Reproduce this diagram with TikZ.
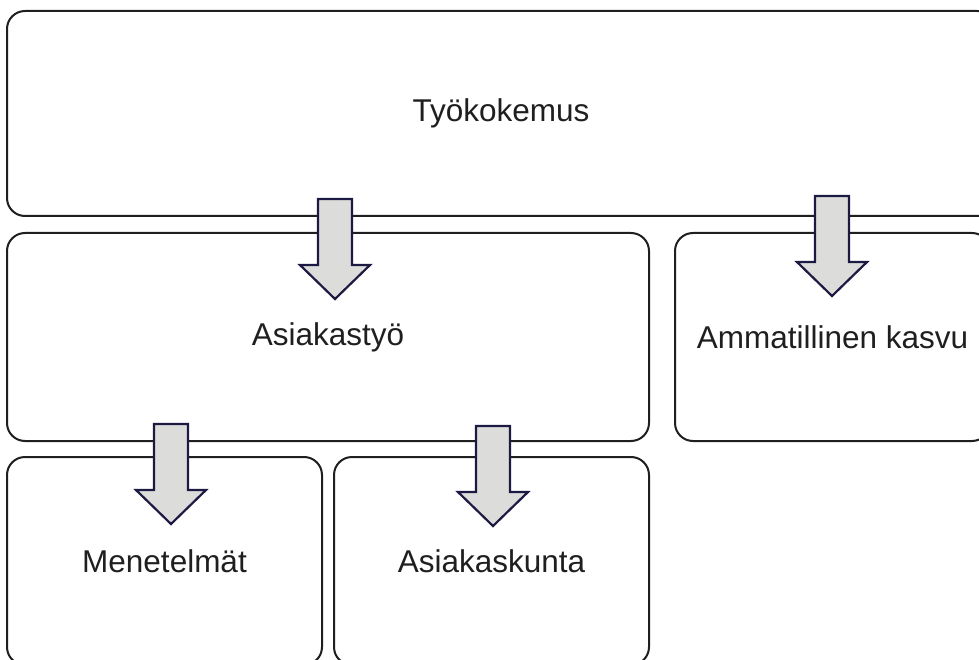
\documentclass[tikz,border=0pt]{standalone}
\usepackage{fontspec}
\setmainfont{Liberation Sans}
\definecolor{boxline}{HTML}{1F1F1F}
\definecolor{arrowfill}{HTML}{DCDDDA}
\definecolor{arrowline}{HTML}{1C1942}
\begin{document}
\begin{tikzpicture}[x=1pt,y=-1pt,
  box/.style={draw=boxline, line width=2pt, rounded corners=18pt, fill=white,
    text=boxline, font=\fontsize{31.5}{38}\selectfont, inner sep=0pt},
  arrowstyle/.style={draw=arrowline, fill=arrowfill, line width=2.2pt, line join=miter},
  blockarrow/.pic={\draw[arrowstyle] (-17,0) -- (17,0) -- (17,66) -- (35,66) -- (0,100)
      -- (-35,66) -- (-17,66) -- cycle;}]
\useasboundingbox (0,0) rectangle (979,660);
\clip (0,0) rectangle (979,660);

% boxes
\node[box, minimum width=988pt, minimum height=205pt] (work) at (501,113.5) {Työkokemus};
\node[box, minimum width=642pt, minimum height=208pt] (client) at (328,337) {Asiakastyö};
\node[box, minimum width=315pt, minimum height=208pt] (growth) at (832.5,337) {Ammatillinen kasvu};
\node[box, minimum width=315pt, minimum height=208pt] (methods) at (164.5,561) {Menetelmät};
\node[box, minimum width=315pt, minimum height=208pt] (clients) at (491.5,561) {Asiakaskunta};

% block arrows between the levels
\pic at (335,199) {blockarrow};
\pic at (832,196) {blockarrow};
\pic at (171,424) {blockarrow};
\pic at (493,426) {blockarrow};
\end{tikzpicture}
\end{document}
